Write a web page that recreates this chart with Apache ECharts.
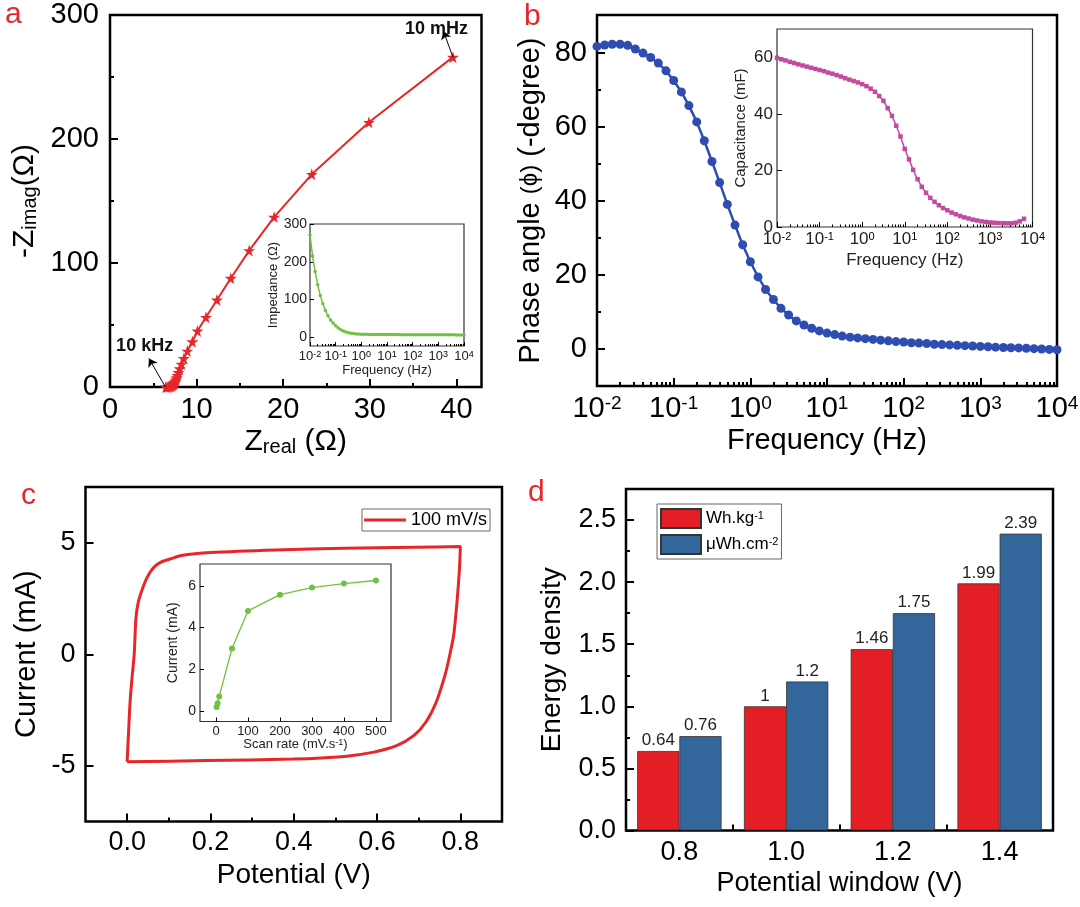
<!DOCTYPE html>
<html><head><meta charset="utf-8">
<script src="https://cdn.jsdelivr.net/npm/echarts@6/dist/echarts.min.js"></script>
<style>html,body{margin:0;padding:0;background:#fff}#c{width:1080px;height:907px}</style>
</head><body><div id="c"></div>
<script>
// ---------- DATA ----------
// (a) Nyquist plot, low -> high frequency
const nyqReal = [39.6, 29.9, 23.3, 18.95, 16.07, 13.95, 12.35, 11.08, 10.1, 9.51, 8.93, 8.53, 8.25, 8.05, 7.9, 7.78, 7.68, 7.6, 7.52, 7.45, 7.38, 7.3, 7.22, 7.12, 7.0, 6.88, 6.75, 6.6, 6.45];
const nyqImag = [266, 213.5, 171.5, 137, 110, 87.7, 70.2, 56.2, 45.2, 36.5, 29, 23, 18.5, 14.8, 11.8, 9.4, 7.5, 5.9, 4.6, 3.6, 2.8, 2.1, 1.6, 1.1, 0.7, 0.4, 0.2, 0.1, 0];
// frequency grid (Hz), 10 points per decade
const freq = [0.01, 0.0126, 0.0158, 0.02, 0.0251, 0.0316, 0.0398, 0.0501, 0.0631, 0.0794,
  0.1, 0.126, 0.158, 0.2, 0.251, 0.316, 0.398, 0.501, 0.631, 0.794,
  1, 1.26, 1.58, 2, 2.51, 3.16, 3.98, 5.01, 6.31, 7.94,
  10, 12.6, 15.8, 20, 25.1, 31.6, 39.8, 50.1, 63.1, 79.4,
  100, 126, 158, 200, 251, 316, 398, 501, 631, 794,
  1000, 1260, 1580, 2000, 2510, 3160, 3980, 5010, 6310, 7940, 10000];
// (a inset) impedance modulus (Ohm)
const impedance = [271, 215, 174, 139, 111, 89, 71, 57, 46, 38,
  30.5, 24.6, 20.1, 16.7, 14.1, 12.2, 10.8, 9.8, 9.1, 8.6,
  8.2, 8.0, 7.8, 7.7, 7.6, 7.5, 7.5, 7.4, 7.4, 7.3,
  7.3, 7.3, 7.2, 7.2, 7.2, 7.1, 7.1, 7.1, 7.0, 7.0,
  7.0, 6.9, 6.9, 6.9, 6.8, 6.8, 6.8, 6.7, 6.7, 6.7,
  6.6, 6.6, 6.6, 6.5, 6.5, 6.5, 6.5, 6.4, 6.4, 6.4, 6.4];
// (b) phase angle (-degree)
const phase = [81.8, 82.2, 82.4, 82.4, 82.1, 81.1, 80.0, 78.8, 77.3, 75.2,
  72.6, 69.5, 65.8, 61.4, 56.3, 50.7, 45.0, 39.1, 33.5, 28.2,
  23.6, 19.5, 16.1, 13.4, 11.0, 9.2, 7.6, 6.5, 5.6, 4.9,
  4.3, 3.9, 3.5, 3.2, 3.0, 2.8, 2.6, 2.4, 2.2, 2.0,
  1.9, 1.7, 1.6, 1.5, 1.3, 1.2, 1.1, 1.0, 0.9, 0.8,
  0.7, 0.6, 0.5, 0.4, 0.35, 0.3, 0.2, 0.1, 0.0, -0.1, -0.2];
// (b inset) capacitance (mF), 0.01 Hz .. 6310 Hz
const capacitance = [59.8, 59.3, 58.9, 58.4, 58.0, 57.5, 57.1, 56.7, 56.3, 55.9,
  55.5, 55.1, 54.6, 54.2, 53.7, 53.2, 52.6, 52.1, 51.6, 51.1,
  50.5, 49.8, 48.9, 47.8, 46.3, 44.6, 42.0, 39.3, 35.8, 32.0,
  27.6, 23.9, 20.2, 16.9, 14.2, 12.1, 10.3, 8.9, 7.7, 6.7,
  5.9, 5.1, 4.5, 3.9, 3.4, 3.0, 2.6, 2.3, 2.0, 1.8,
  1.6, 1.5, 1.4, 1.35, 1.3, 1.3, 1.5, 2.0, 2.9];
// (c) CV loop at 100 mV/s
const cvPotential = [0, 0.003, 0.007, 0.012, 0.017, 0.021, 0.027, 0.037, 0.048, 0.062, 0.08, 0.108, 0.13, 0.2, 0.357, 0.52, 0.688, 0.8,
  0.798, 0.792, 0.784, 0.775, 0.763, 0.742, 0.717, 0.688, 0.647, 0.589, 0.522, 0.398, 0.19, 0];
const cvCurrent = [-4.82, -3.65, -2.15, -1.0, 0, 1.6, 2.36, 2.95, 3.45, 3.86, 4.12, 4.3, 4.43, 4.56, 4.68, 4.75, 4.8, 4.83,
  3.86, 2.36, 0.86, 0, -0.95, -2.15, -3.05, -3.65, -4.1, -4.4, -4.58, -4.7, -4.77, -4.82];
// (c inset) current vs scan rate
const scanRate = [2, 5, 10, 50, 100, 200, 300, 400, 500];
const scanCurrent = [0.19, 0.38, 0.7, 3.0, 4.8, 5.58, 5.92, 6.11, 6.26];
// (d) energy density
const windows = ['0.8', '1.0', '1.2', '1.4'];
const whKg = [0.64, 1, 1.46, 1.99];
const uWhCm = [0.76, 1.2, 1.75, 2.39];
// tick values
const ticksA_x = [0, 10, 20, 30, 40], minorA_x = [5, 15, 25, 35];
const ticksA_y = [0, 100, 200, 300], minorA_y = [50, 150, 250];
const ticksB_y = [0, 20, 40, 60, 80], minorB_y = [10, 30, 50, 70];
const decades = [0.01, 0.1, 1, 10, 100, 1000, 10000];
const ticksC_x = [0, 0.2, 0.4, 0.6, 0.8], minorC_x = [0.1, 0.3, 0.5, 0.7];
const ticksC_y = [-5, 0, 5];
const ticksCi_x = [0, 100, 200, 300, 400, 500], ticksCi_y = [0, 2, 4, 6];
const ticksBi_y = [0, 20, 40, 60];
const ticksD_y = [0, 0.5, 1, 1.5, 2, 2.5], minorD_y = [0.25, 0.75, 1.25, 1.75, 2.25];

// ---------- STYLE / LAYOUT ----------
const FONT = '"Liberation Sans", Arial, Helvetica, sans-serif';
const RED = '#e8262a', BLUE = '#2f4db0', MAG = '#c24a9f', GREEN = '#72c043';
const logMinors = [];
decades.slice(0, -1).forEach(d => { for (let k = 2; k <= 9; k++) logMinors.push(+(d * k).toPrecision(3)); });

const grids = [
  { left: 110, top: 15, width: 371.5, height: 372 },      // 0 a
  { left: 310, top: 224, width: 154, height: 122 },       // 1 a inset
  { left: 597, top: 15, width: 460, height: 371 },        // 2 b
  { left: 777, top: 29, width: 255.5, height: 198 },      // 3 b inset
  { left: 85.5, top: 487, width: 416.5, height: 334.5 },  // 4 c
  { left: 200, top: 564, width: 191, height: 157.5 },     // 5 c inset
  { left: 626, top: 489, width: 427, height: 341.5 }      // 6 d
].map((g, i) => Object.assign(g, {
  show: true, backgroundColor: '#fff', borderColor: [1, 3, 5].includes(i) ? '#333' : '#000',
  borderWidth: [1, 3, 5].includes(i) ? 1.2 : 2.5, containLabel: false, outerBoundsMode: 'none'
}));

const xAxes = [], yAxes = [];
function addAxis(list, gi, pos, o) {
  const base = {
    type: o.type || 'value', gridIndex: gi, position: pos, min: o.min, max: o.max,
    axisLine: { show: false, onZero: false }, splitLine: { show: false }
  };
  if (o.type === 'log') base.logBase = 10;
  const tl = o.tick || 8, tw = o.tw || 2;
  const main = Object.assign({}, base, {
    axisTick: { show: true, inside: true, length: tl, lineStyle: { color: '#000', width: tw }, customValues: o.majors },
    axisLabel: { show: true, customValues: o.majors, formatter: o.fmt, color: o.color || '#000', fontFamily: FONT,
      fontSize: o.fs, margin: o.margin, rich: o.rich },
    name: o.name || '', nameLocation: 'middle', nameGap: o.nameGap,
    nameTextStyle: { fontFamily: FONT, fontSize: o.nfs, color: o.color || '#000', rich: o.nrich }
  });
  list.push(main);
  const idx = list.length - 1;
  if (o.minors) {
    list.push(Object.assign({}, base, {
      axisTick: { show: true, inside: true, length: tl / 2, lineStyle: { color: '#000', width: tw }, customValues: o.minors },
      axisLabel: { show: false }
    }));
  }
  return idx;
}
const logFmt = v => '10{sup|' + Math.round(Math.log10(v)) + '}';
const supRich = (fs) => ({ sup: { fontSize: fs, fontFamily: FONT, verticalAlign: 'top', color: '#000' } });

// (a)
const ax = addAxis(xAxes, 0, 'bottom', { min: 0, max: 42.9, majors: ticksA_x, minors: minorA_x, fmt: v => String(v), fs: 29, margin: 8,
  name: 'Z{sub|real} (\u03a9)', nameGap: 40, nfs: 30, nrich: { sub: { fontSize: 20, fontFamily: FONT, verticalAlign: 'bottom' } } });
const ay = addAxis(yAxes, 0, 'left', { min: 0, max: 300, majors: ticksA_y, minors: minorA_y, fmt: v => String(v), fs: 29, margin: 11,
  name: '-Z{sub|imag}(\u03a9)', nameGap: 70, nfs: 30, nrich: { sub: { fontSize: 20, fontFamily: FONT, verticalAlign: 'bottom' } } });
// (a inset)
const aix = addAxis(xAxes, 1, 'bottom', { type: 'log', min: 0.01, max: 10000, majors: decades, minors: logMinors, fmt: logFmt, fs: 13, margin: 4,
  rich: supRich(9), tick: 4, tw: 1, color: '#222', name: 'Frequency (Hz)', nameGap: 17, nfs: 13 });
const aiy = addAxis(yAxes, 1, 'left', { min: -23, max: 300, majors: ticksA_y, fmt: v => String(v), fs: 14, margin: 3, tick: 4, tw: 1,
  color: '#222', name: 'Impedance (\u03a9)', nameGap: 27, nfs: 13 });
// (b)
const bx = addAxis(xAxes, 2, 'bottom', { type: 'log', min: 0.01, max: 10000, majors: decades, minors: logMinors, fmt: logFmt, fs: 29, margin: 8,
  rich: supRich(19), name: 'Frequency (Hz)', nameGap: 40, nfs: 29 });
const by = addAxis(yAxes, 2, 'left', { min: -10, max: 90.3, majors: ticksB_y, minors: minorB_y, fmt: v => String(v), fs: 29, margin: 10,
  name: 'Phase angle {s|(\u03d5)} (-degree)', nameGap: 52, nfs: 29, nrich: { s: { fontSize: 24, fontFamily: FONT } } });
// (b inset)
const bix = addAxis(xAxes, 3, 'bottom', { type: 'log', min: 0.01, max: 10000, majors: decades, minors: logMinors, fmt: logFmt, fs: 17, margin: 4,
  rich: supRich(11), tick: 5, tw: 1, color: '#222', name: 'Frequency (Hz)', nameGap: 25, nfs: 17 });
const biy = addAxis(yAxes, 3, 'left', { min: 0, max: 70, majors: ticksBi_y, fmt: v => String(v), fs: 17, margin: 4, tick: 5, tw: 1,
  color: '#222', name: 'Capacitance (mF)', nameGap: 29, nfs: 15 });
// (c)
const cx = addAxis(xAxes, 4, 'bottom', { min: -0.1, max: 0.9, majors: ticksC_x, minors: minorC_x, fmt: v => v.toFixed(1), fs: 27, margin: 8,
  name: 'Potential (V)', nameGap: 40, nfs: 28 });
const cy = addAxis(yAxes, 4, 'left', { min: -7.5, max: 7.5, majors: ticksC_y, fmt: v => String(v), fs: 27, margin: 10,
  name: 'Current (mA)', nameGap: 44, nfs: 29 });
// (c inset)
const cix = addAxis(xAxes, 5, 'bottom', { min: -50, max: 547, majors: ticksCi_x, fmt: v => String(v), fs: 13, margin: 3, tick: 4, tw: 1,
  color: '#222', name: 'Scan rate (mV.s{sup|-1})', nameGap: 14, nfs: 13, nrich: { sup: { fontSize: 9, fontFamily: FONT, verticalAlign: 'top' } } });
const ciy = addAxis(yAxes, 5, 'left', { min: -0.5, max: 7.05, majors: ticksCi_y, fmt: v => String(v), fs: 14, margin: 4, tick: 4, tw: 1,
  color: '#222', name: 'Current (mA)', nameGap: 20, nfs: 14 });
// (d)
xAxes.push({ type: 'category', gridIndex: 6, position: 'bottom', data: windows, axisLine: { show: false, onZero: false }, splitLine: { show: false },
  axisTick: { show: true, inside: true, length: 6, lineStyle: { color: '#000', width: 2 } },
  axisLabel: { color: '#000', fontFamily: FONT, fontSize: 27, margin: 9 },
  name: 'Potential window (V)', nameLocation: 'middle', nameGap: 40, nameTextStyle: { fontFamily: FONT, fontSize: 27, color: '#000' } });
const dx = xAxes.length - 1;
const dy = addAxis(yAxes, 6, 'left', { min: 0, max: 2.75, majors: ticksD_y, minors: minorD_y, fmt: v => v.toFixed(1), fs: 27, margin: 10,
  name: 'Energy density', nameGap: 60, nfs: 28 });

const STAR = 'path://M50,0 L61,35 L98,35 L68,57 L79,91 L50,70 L21,91 L32,57 L2,35 L39,35 Z';
const zip = (a, b) => a.map((v, i) => [v, b[i]]);
const barLabel = { show: true, position: 'top', distance: 2, fontFamily: FONT, fontSize: 17, color: '#222' };

const series = [
  { name: 'nyquist', type: 'line', xAxisIndex: ax, yAxisIndex: ay, data: zip(nyqReal, nyqImag),
    symbol: STAR, symbolSize: 12, itemStyle: { color: RED }, lineStyle: { color: RED, width: 2 }, z: 3,
    markLine: { silent: true, symbol: ['none', 'arrow'], symbolSize: 8, label: { show: false },
      lineStyle: { color: '#000', width: 1, type: 'solid' },
      data: [[{ coord: [39.6, 266] }, { coord: [38.5, 287] }], [{ coord: [6.4, 0] }, { coord: [4.5, 23] }]] },
    markPoint: { silent: true, symbol: 'circle', symbolSize: 0,
      label: { show: true, position: 'inside', formatter: '{b}', fontFamily: FONT, fontWeight: 'bold', fontSize: 18, color: '#111' },
      data: [{ name: '10 mHz', coord: [37.7, 289] }, { name: '10 kHz', coord: [4.0, 33] }] } },
  { name: 'impedance', type: 'line', xAxisIndex: aix, yAxisIndex: aiy, data: zip(freq, impedance),
    symbol: 'circle', symbolSize: 3.5, itemStyle: { color: GREEN }, lineStyle: { color: GREEN, width: 1.5 } },
  { name: 'phase', type: 'line', xAxisIndex: bx, yAxisIndex: by, data: zip(freq, phase),
    symbol: 'circle', symbolSize: 9, itemStyle: { color: BLUE }, lineStyle: { color: BLUE, width: 2.5 } },
  { name: 'capacitance', type: 'line', xAxisIndex: bix, yAxisIndex: biy, data: zip(freq.slice(0, capacitance.length), capacitance),
    symbol: 'rect', symbolSize: 4.5, itemStyle: { color: MAG }, lineStyle: { color: MAG, width: 1.5 } },
  { name: '100 mV/s', type: 'line', xAxisIndex: cx, yAxisIndex: cy, data: zip(cvPotential, cvCurrent),
    symbol: 'none', smooth: 0.25, itemStyle: { color: RED }, lineStyle: { color: RED, width: 3 } },
  { name: 'scan', type: 'line', xAxisIndex: cix, yAxisIndex: ciy, data: zip(scanRate, scanCurrent),
    symbol: 'circle', symbolSize: 6, itemStyle: { color: GREEN }, lineStyle: { color: GREEN, width: 1.3 } },
  { name: 'Wh.kg-1', type: 'bar', xAxisIndex: dx, yAxisIndex: dy, data: whKg, barGap: '0%', barCategoryGap: '21%',
    itemStyle: { color: '#e31e24', borderColor: '#333', borderWidth: 0.8 }, label: barLabel },
  { name: 'uWh.cm-2', type: 'bar', xAxisIndex: dx, yAxisIndex: dy, data: uWhCm, barGap: '0%', barCategoryGap: '21%',
    itemStyle: { color: '#33669a', borderColor: '#333', borderWidth: 0.8 }, label: barLabel }
];

const letter = (t, l, tp) => ({ text: t, left: l, top: tp, padding: 0,
  textStyle: { color: RED, fontSize: 30, fontWeight: 'normal', fontFamily: FONT } });

const option = {
  animation: false,
  backgroundColor: '#fff',
  title: [letter('a', 5, 0), letter('b', 524, 2), letter('c', 21, 481), letter('d', 528, 478)],
  grid: grids,
  xAxis: xAxes,
  yAxis: yAxes,
  legend: [
    { data: ['100 mV/s'], left: 362, top: 509, icon: 'rect', itemWidth: 42, itemHeight: 3, itemGap: 5,
      selectedMode: false, padding: [2, 3, 2, 2], borderColor: '#666', borderWidth: 1,
      textStyle: { fontFamily: FONT, fontSize: 18, color: '#000' } },
    { data: ['Wh.kg-1', 'uWh.cm-2'], orient: 'vertical', left: 657, top: 504, icon: 'rect', itemWidth: 40, itemHeight: 19, itemGap: 5,
      selectedMode: false, padding: [4, 3, 4, 3], borderColor: '#666', borderWidth: 1,
      formatter: n => n === 'Wh.kg-1' ? 'Wh.kg{sup|-1}' : '\u03bcWh.cm{sup|-2}',
      textStyle: { fontFamily: FONT, fontSize: 17, color: '#000', rich: { sup: { fontSize: 11, fontFamily: FONT, verticalAlign: 'top' } } } }
  ],
  series: series
};
const chart = echarts.init(document.getElementById('c'), null, { renderer: 'canvas' });
chart.setOption(option);
</script></body></html>
